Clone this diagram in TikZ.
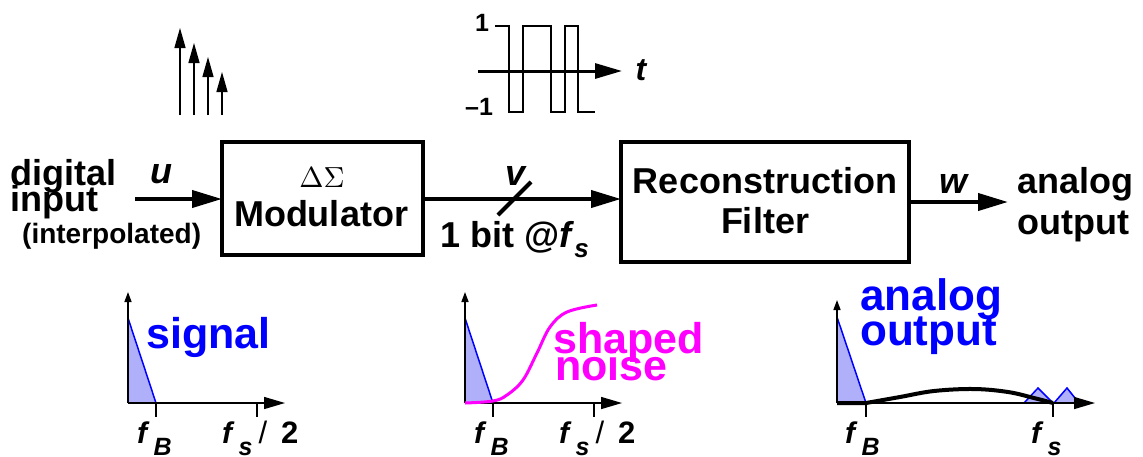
\documentclass[tikz,border=0pt]{standalone}
\usepackage{fontspec}
\setmainfont{Liberation Sans}
\usetikzlibrary{arrows.meta, positioning}
\definecolor{sigBlue}{HTML}{0000FF}
\definecolor{sigFill}{HTML}{B0B0FA}
\definecolor{noiseMag}{HTML}{FF00FF}
\newcommand{\fsz}[1]{\fontsize{#1}{#1}\selectfont}
\newcommand{\lblfB}{\textit{f}\hspace{4pt}\raisebox{-12pt}{\fsz{25}\textit{B}}}
\newcommand{\lblfs}{\textit{f}\hspace{4pt}\raisebox{-12pt}{\fsz{25}\textit{s}}}
\newcommand{\lblfshalf}{\lblfs\hspace{6pt}{\fsz{31}\mdseries/}\hspace{14pt}{\fsz{31}2}}

\begin{document}
\begin{tikzpicture}[x=1pt, y=-1pt,
    block/.style={draw, line width=4pt, inner sep=0pt, outer sep=0pt},
    lbl/.style={font=\fsz{36}\bfseries, inner sep=0pt, anchor=base},
    sig/.style={font=\fsz{43}\bfseries, inner sep=0pt, anchor=base west},
    axlbl/.style={font=\fsz{30}\bfseries, inner sep=0pt, anchor=base west},
    wire/.style={line width=4pt, -{Triangle[length=30pt, width=17pt]}},
    haxis/.style={line width=1.5pt, -{Triangle[length=21pt, width=12pt]}},
    vaxis/.style={line width=1.5pt, -{Triangle[length=10pt, width=7pt]}},
    tickmark/.style={line width=1.2pt},
  ]
    \useasboundingbox (0,0) rectangle (1143,456);

    % interpolated input samples
    \foreach \x/\tp in {180/28, 194/43, 208/57, 222/72}
      \draw[line width=1.5pt, -{Triangle[length=20pt, width=11pt]}] (\x,115) -- (\x,\tp);

    % 1-bit output waveform
    \draw[line width=3pt, -{Triangle[length=27pt, width=15pt]}] (478,71) -- (622,71);
    \draw[line width=2.5pt] (495,26) -| (509,112) -| (523,26) -| (551,112)
        -| (565,26) -| (578,112) -- (595,112);
    \node[font=\fsz{25}\bfseries, inner sep=0pt] (one) at (482,23) {1};
    \node[font=\fsz{25}\bfseries, inner sep=0pt] (mone) at (479,107) {--1};
    \node[font=\fsz{32}\bfseries\itshape, inner sep=0pt] (t) at (641,70) {t};

    % blocks
    \node[block, minimum width=201pt, minimum height=113pt] (mod) at (322.5,198.5) {};
    \node[lbl, font=\fsz{10}] (ds) at (322,187) {\scalebox{2.9}{$\Delta\Sigma$}};
    \node[lbl] (modtxt) at (321,226) {Modulator};
    \node[block, minimum width=288pt, minimum height=120pt] (rec) at (765,202) {};
    \node[lbl] (rectxt) at (765,193) {Reconstruction};
    \node[lbl] (filtxt) at (765,233) {Filter};

    % input / output texts
    \node[lbl, anchor=base west] (dig) at (10,185) {digital};
    \node[lbl, anchor=base west] (inp) at (10,211) {input};
    \node[lbl, anchor=base west, font=\fsz{28}\bfseries] (interp) at (22,243) {(interpolated)};
    \node[lbl, anchor=base west] (ana) at (1017,193) {analog};
    \node[lbl, anchor=base west] (outp) at (1017,234) {output};

    % wires
    \coordinate (uin) at (135,199);
    \coordinate (wout) at (1008,202);
    \draw[wire] (uin) -- (uin -| mod.west);
    \draw[wire] (mod.east |- uin) -- (uin -| rec.west);
    \draw[wire] (rec.east) -- (wout);
    \draw[line width=4pt] (498,215) -- (531,182);
    \node[lbl, font=\fsz{36}\bfseries\itshape] (u) at (161,183) {u};
    \node[lbl, font=\fsz{36}\bfseries\itshape] (v) at (516,185) {v};
    \node[lbl, font=\fsz{36}\bfseries\itshape] (w) at (953,193) {w};
    \node[lbl, anchor=base west] (rate) at (440,247) {1 bit @\textit{f}\raisebox{-10pt}{\fsz{26}\textit{s}}};

    % spectrum: signal
    \fill[sigFill] (128,318) -- (156,403) -- (128,403) -- cycle;
    \draw[sigBlue, line width=1.5pt] (128,318) -- (156,403);
    \draw[vaxis] (128,403) -- (128,292);
    \draw[haxis] (128,403) -- (285,403);
    \draw[tickmark] (156,403) -- (156,417);
    \draw[tickmark] (257,403) -- (257,417);
    \node[sig, text=sigBlue] (sigl) at (146,348) {signal};
    \node[axlbl] (fb1) at (137,443) {\lblfB};
    \node[axlbl] (fs1) at (222,443) {\lblfshalf};

    % spectrum: shaped noise
    \fill[sigFill] (465,318) -- (493,403) -- (465,403) -- cycle;
    \draw[sigBlue, line width=1.5pt] (465,318) -- (493,403);
    \draw[vaxis] (465,403) -- (465,292);
    \draw[haxis] (465,403) -- (622,403);
    \draw[tickmark] (493,403) -- (493,417);
    \draw[tickmark] (594,403) -- (594,417);
    \draw[noiseMag, line width=3pt] plot[smooth, tension=0.6] coordinates
        {(465,403) (493,401) (507,395) (523,380) (537,353) (550,327) (567,312) (597,305)};
    \node[sig, text=noiseMag] (shp) at (553,353) {shaped};
    \node[sig, text=noiseMag] (noi) at (555,380) {noise};
    \node[axlbl] (fb2) at (474,443) {\lblfB};
    \node[axlbl] (fs2) at (559,443) {\lblfshalf};

    % spectrum: analog output
    \fill[sigFill] (837,317) -- (866,403) -- (837,403) -- cycle;
    \draw[sigBlue, line width=1.5pt] (837,317) -- (866,403);
    \filldraw[fill=sigFill, draw=sigBlue, line width=1.5pt] (1024,403) -- (1038,388) -- (1053,403);
    \filldraw[fill=sigFill, draw=sigBlue, line width=1.5pt] (1054,403) -- (1067,388) -- (1079,403);
    \draw[vaxis] (837,403) -- (837,300);
    \draw[haxis] (837,403) -- (1095,403);
    \draw[tickmark] (866,403) -- (866,417);
    \draw[tickmark] (1053,403) -- (1053,417);
    \draw[line width=4pt] (837,403) -- plot[smooth, tension=0.6] coordinates
        {(866,403) (900,397) (934,391) (974,389) (1008,392) (1034,398) (1053,403)};
    \node[sig, text=sigBlue, font=\fsz{44}\bfseries] (ana2) at (860,310) {analog};
    \node[sig, text=sigBlue, font=\fsz{44}\bfseries] (out2) at (860,345) {output};
    \node[axlbl] (fb3) at (845,443) {\lblfB};
    \node[axlbl] (fs3) at (1031,443) {\lblfs};
\end{tikzpicture}
\end{document}
